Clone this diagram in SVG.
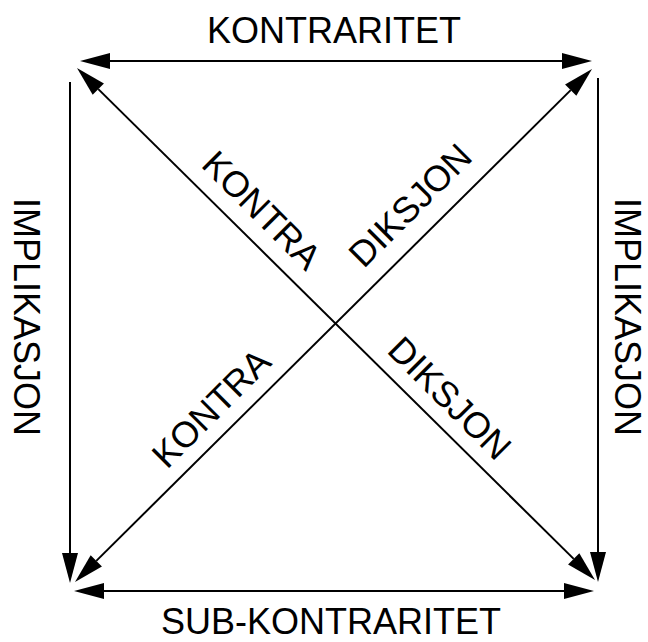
<svg xmlns="http://www.w3.org/2000/svg" width="648" height="642" viewBox="0 0 648 642">
<style>
text{font-family:"Liberation Sans",Arial,sans-serif;font-size:36px;fill:#000;text-anchor:middle}
.c{stroke:#000;stroke-width:2;fill:none}
</style>
<defs>
<marker id="ah" markerUnits="userSpaceOnUse" markerWidth="32" markerHeight="18" refX="0" refY="8" orient="auto-start-reverse" overflow="visible"><path d="M0,0 L30,8 L0,16 Z" fill="#000"/></marker>
</defs>
<rect width="648" height="642" fill="#fff"/>
<g id="connectors">
<line class="c" x1="110" y1="61" x2="562" y2="61" marker-start="url(#ah)" marker-end="url(#ah)"/>
<line class="c" x1="104" y1="591" x2="564" y2="591" marker-start="url(#ah)" marker-end="url(#ah)"/>
<line class="c" x1="70" y1="82" x2="70" y2="553" marker-end="url(#ah)"/>
<line class="c" x1="598" y1="78" x2="598" y2="552" marker-end="url(#ah)"/>
<line class="c" x1="98.3" y1="89.1" x2="573.7" y2="558.9" marker-start="url(#ah)" marker-end="url(#ah)"/>
<line class="c" x1="570.7" y1="90.1" x2="96.3" y2="560.9" marker-start="url(#ah)" marker-end="url(#ah)"/>
</g>
<g id="kontraritet"><text x="334" y="43">KONTRARITET</text></g>
<g id="subkontraritet"><text x="331" y="634">SUB-KONTRARITET</text></g>
<g id="implikasjon-left"><text transform="translate(14,317) rotate(90)">IMPLIKASJON</text></g>
<g id="implikasjon-right"><text transform="translate(615,317) rotate(90)">IMPLIKASJON</text></g>
<g id="kontra-upper"><text transform="translate(253,219) rotate(45)">KONTRA</text></g>
<g id="diksjon-upper"><text transform="translate(419,214) rotate(-45)">DIKSJON</text></g>
<g id="kontra-lower"><text transform="translate(220,417) rotate(-45)">KONTRA</text></g>
<g id="diksjon-lower"><text transform="translate(441,407) rotate(45)">DIKSJON</text></g>
</svg>
